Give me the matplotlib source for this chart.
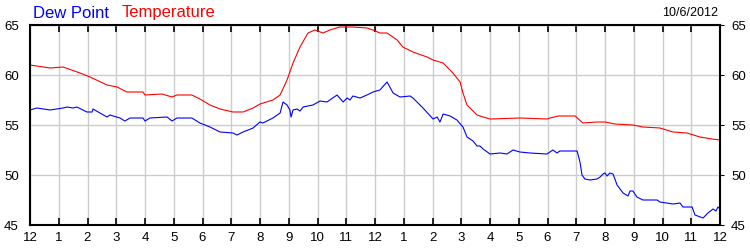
import matplotlib.pyplot as plt

plt.rcParams["font.family"] = ["Liberation Sans", "DejaVu Sans"]

# hours since midnight, values in degrees F
temp_hours = [0.00, 0.70, 1.15, 1.74, 2.09, 2.68, 3.03, 3.37, 3.93, 4.00, 4.59, 4.94,
              5.11, 5.63, 5.91, 6.26, 6.61, 7.06, 7.41, 7.76, 8.00, 8.45, 8.70, 8.94,
              9.15, 9.39, 9.67, 9.91, 10.19, 10.43, 10.78, 11.23, 11.72, 11.93, 12.17,
              12.42, 12.77, 12.97, 13.32, 13.81, 14.02, 14.37, 14.71, 14.96, 15.06,
              15.20, 15.55, 15.76, 16.00, 17.04, 17.98, 18.09, 18.37, 18.96, 19.23,
              19.72, 20.00, 20.35, 20.97, 21.32, 21.91, 22.37, 22.85, 23.30, 23.72, 24.00]
temp_values = [61.0, 60.7, 60.8, 60.2, 59.8, 59.0, 58.8, 58.3, 58.3, 58.0, 58.1, 57.8,
               58.0, 58.0, 57.6, 57.0, 56.6, 56.3, 56.3, 56.7, 57.1, 57.5, 58.0, 59.5,
               61.2, 62.8, 64.2, 64.5, 64.2, 64.5, 64.8, 64.8, 64.7, 64.5, 64.2,
               64.2, 63.5, 62.8, 62.3, 61.8, 61.5, 61.2, 60.2, 59.3, 58.2,
               57.0, 56.0, 55.8, 55.6, 55.7, 55.6, 55.7, 55.9, 55.9, 55.2,
               55.3, 55.3, 55.1, 55.0, 54.8, 54.7, 54.3, 54.2, 53.8, 53.6, 53.5]

dew_hours = [0.00, 0.24, 0.70, 1.15, 1.29, 1.50, 1.63, 1.98, 2.16, 2.19, 2.68, 2.78,
             3.13, 3.30, 3.48, 3.93, 4.00, 4.17, 4.77, 4.94, 5.11, 5.63, 5.91, 6.26,
             6.61, 7.06, 7.20, 7.41, 7.76, 8.00, 8.10, 8.45, 8.70, 8.80, 8.94, 9.04,
             9.08, 9.15, 9.29, 9.39, 9.50, 9.84, 10.09, 10.33, 10.43, 10.68, 10.89,
             11.03, 11.13, 11.23, 11.48, 11.72, 11.93, 12.17, 12.42, 12.63, 12.87,
             13.22, 13.32, 13.67, 14.02, 14.16, 14.26, 14.37, 14.61, 14.85, 15.06,
             15.20, 15.41, 15.55, 15.65, 15.76, 16.00, 16.35, 16.59, 16.80, 17.04,
             17.39, 17.98, 18.19, 18.33, 18.43, 19.03, 19.13, 19.20, 19.30, 19.48,
             19.72, 19.83, 19.93, 20.00, 20.07, 20.17, 20.28, 20.42, 20.63, 20.80,
             20.87, 20.97, 21.11, 21.32, 21.81, 21.91, 22.37, 22.61, 22.71, 23.03,
             23.13, 23.41, 23.58, 23.76, 23.86, 23.93, 24.00]
dew_values = [56.5, 56.7, 56.5, 56.7, 56.8, 56.7, 56.8, 56.3, 56.3, 56.6, 55.8, 56.0,
              55.7, 55.4, 55.7, 55.7, 55.4, 55.7, 55.8, 55.4, 55.7, 55.7, 55.2, 54.8,
              54.3, 54.2, 54.0, 54.3, 54.7, 55.3, 55.2, 55.7, 56.2, 57.3, 57.0, 56.5,
              55.8, 56.5, 56.6, 56.4, 56.8, 57.0, 57.4, 57.3, 57.5, 58.0, 57.3,
              57.7, 57.5, 57.9, 57.7, 58.0, 58.3, 58.5, 59.3, 58.2, 57.8,
              57.9, 57.7, 56.7, 55.6, 55.8, 55.3, 56.1, 55.9, 55.5, 54.8,
              53.8, 53.4, 52.9, 52.9, 52.6, 52.1, 52.2, 52.1, 52.5, 52.3,
              52.2, 52.1, 52.5, 52.2, 52.4, 52.4, 51.3, 50.0, 49.6, 49.5,
              49.6, 49.8, 50.1, 50.2, 49.9, 50.2, 50.1, 49.0, 48.2, 47.9,
              48.4, 48.4, 47.8, 47.5, 47.5, 47.3, 47.1, 47.2, 46.8, 46.8,
              46.0, 45.7, 46.2, 46.6, 46.4, 46.8, 46.6]

hour_ticks = list(range(25))
hour_labels = ["12", "1", "2", "3", "4", "5", "6", "7", "8", "9", "10", "11",
               "12", "1", "2", "3", "4", "5", "6", "7", "8", "9", "10", "11", "12"]
y_ticks = [45, 50, 55, 60, 65]

fig = plt.figure(figsize=(7.5, 2.5), dpi=100)
ax = fig.add_axes([0.04, 0.1, 0.92, 0.8])

ax.plot(dew_hours, dew_values, color="#0000ff", linewidth=0.8)
ax.plot(temp_hours, temp_values, color="#ff0000", linewidth=0.8)

ax.set_xlim(0, 24)
ax.set_ylim(45, 65)
ax.set_xticks(hour_ticks)
ax.set_xticklabels(hour_labels)
ax.set_yticks(y_ticks)
ax.grid(True, color="#cccccc", linewidth=1)
ax.set_axisbelow(True)

ax.tick_params(axis="x", direction="in", length=5, width=1.2, top=True,
               labelsize=9.5, pad=5)
ax.tick_params(axis="y", labelsize=9.5, pad=5, right=True, labelright=True,
               length=3, direction="out", left=False)
for spine in ax.spines.values():
    spine.set_linewidth(1.5)
    spine.set_color("black")

fig.text(33 / 750, 1 - 13 / 250, "Dew Point", color="#0000ff", fontsize=12,
         va="center", ha="left")
fig.text(122 / 750, 1 - 13 / 250, "Temperature", color="#ff0000", fontsize=12,
         va="center", ha="left")
fig.text(718 / 750, 1 - 13 / 250, "10/6/2012", color="black", fontsize=9,
         va="center", ha="right")

fig.savefig("out.png", dpi=100)
